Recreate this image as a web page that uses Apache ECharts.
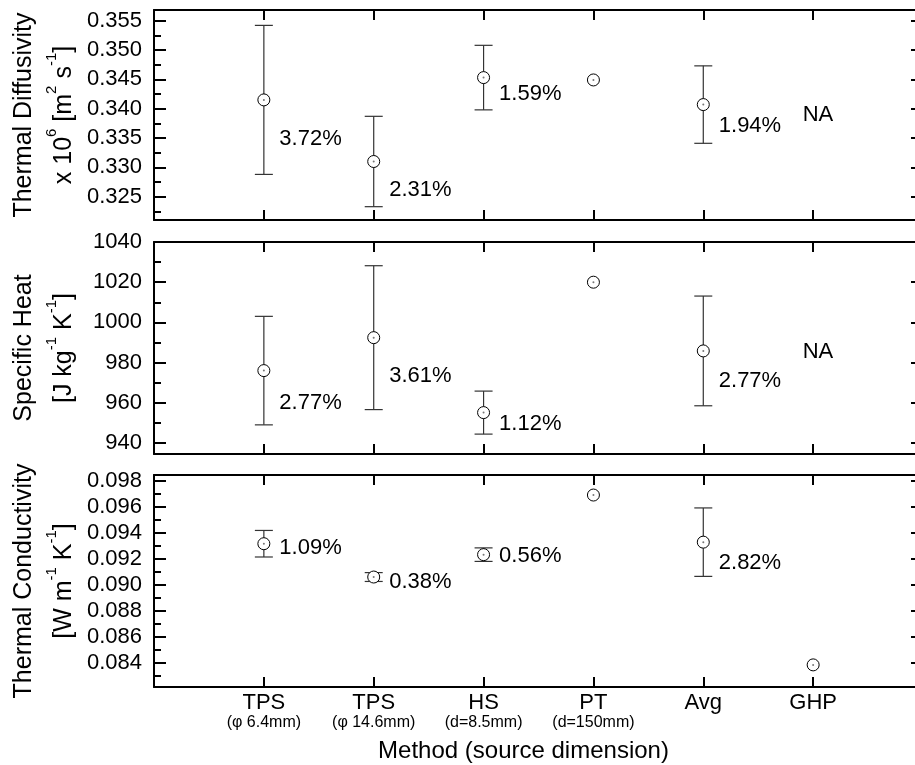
<!DOCTYPE html>
<html>
<head>
<meta charset="utf-8">
<script src="https://cdn.jsdelivr.net/npm/echarts@6/dist/echarts.min.js"></script>
<style>
html, body { margin: 0; padding: 0; background: #fff; }
#chart { width: 915px; height: 765px; }
</style>
</head>
<body>
<div id="chart"></div>
<script>
// methods along the x axis (positions 1..6)
var methods = ['TPS', 'TPS', 'HS', 'PT', 'Avg', 'GHP'];
var methodSub = ['(\u03c6 6.4mm)', '(\u03c6 14.6mm)', '(d=8.5mm)', '(d=150mm)', '', ''];

// thermal diffusivity x 10^6
var diffValues = [0.3415, 0.3310, 0.3453, 0.3449, 0.3407, null];
var diffErrors = [0.0127, 0.0077, 0.0055, null, 0.0066, null];
var diffPct = ['3.72%', '2.31%', '1.59%', '', '1.94%', ''];
var diffTicks = [0.325, 0.330, 0.335, 0.340, 0.345, 0.350, 0.355];
var diffMinor = [0.3225, 0.3275, 0.3325, 0.3375, 0.3425, 0.3475, 0.3525];

// specific heat
var heatValues = [976, 992.4, 955.1, 1020, 985.8, null];
var heatErrors = [27.0, 35.8, 10.7, null, 27.3, null];
var heatPct = ['2.77%', '3.61%', '1.12%', '', '2.77%', ''];
var heatTicks = [940, 960, 980, 1000, 1020, 1040];
var heatMinor = [950, 970, 990, 1010, 1030];

// thermal conductivity
var condValues = [0.09316, 0.0906, 0.09232, 0.0969, 0.09328, 0.08385];
var condErrors = [0.00102, 0.00034, 0.00052, null, 0.00263, null];
var condPct = ['1.09%', '0.38%', '0.56%', '', '2.82%', ''];
var condTicks = [0.084, 0.086, 0.088, 0.090, 0.092, 0.094, 0.096, 0.098];
var condMinor = [0.083, 0.085, 0.087, 0.089, 0.091, 0.093, 0.095, 0.097];

var font = '"Liberation Sans", Arial, sans-serif';
var chart = echarts.init(document.getElementById('chart'));

// vertical shift (px) of the percentage labels
var pctShift = [
    [39, 28, 16, 0, 21],
    [32, 38, 11, 0, 30],
    [4, 5, 1, 0, 21]
];

var panels = [
    {values: diffValues, errors: diffErrors, pct: diffPct, ticks: diffTicks, minor: diffMinor,
     min: 0.32103, max: 0.35682, top: 10, height: 210, digits: 3, na: 0.3389,
     title: 'Thermal Diffusivity\nx 10{sup|6} [m{sup|2} s{sup|-1}]'},
    {values: heatValues, errors: heatErrors, pct: heatPct, ticks: heatTicks, minor: heatMinor,
     min: 934.5, max: 1040, top: 242, height: 212, digits: 0, na: 985.4,
     title: 'Specific Heat\n[J kg{sup|-1} K{sup|-1}]'},
    {values: condValues, errors: condErrors, pct: condPct, ticks: condTicks, minor: condMinor,
     min: 0.08215, max: 0.09844, top: 475, height: 212, digits: 3, na: null,
     title: 'Thermal Conductivity\n[W m{sup|-1} K{sup|-1}]'}
];

var lineStyle = {color: '#000', width: 2};

function errRender(params, api) {
    var x = api.value(0);
    var lo = api.coord([x, api.value(1)]);
    var hi = api.coord([x, api.value(2)]);
    var w = 9;
    var st = {stroke: '#333', lineWidth: 1.2};
    return {
        type: 'group',
        children: [
            {type: 'line', shape: {x1: lo[0], y1: lo[1], x2: hi[0], y2: hi[1]}, style: st},
            {type: 'line', shape: {x1: lo[0] - w, y1: lo[1], x2: lo[0] + w, y2: lo[1]}, style: st},
            {type: 'line', shape: {x1: hi[0] - w, y1: hi[1], x2: hi[0] + w, y2: hi[1]}, style: st}
        ]
    };
}

var grids = [], xAxes = [], yAxes = [], series = [];

panels.forEach(function(p, i) {
    var last = i == panels.length - 1;
    grids.push({left: 154, width: 769, top: p.top, height: p.height,
                containLabel: false, outerBoundsMode: 'none'});

    xAxes.push({
        type: 'value', gridIndex: i, min: 0, max: 7, interval: 1, position: 'bottom',
        axisLine: {onZero: false, lineStyle: lineStyle},
        axisTick: {inside: true, length: 10, lineStyle: lineStyle},
        splitLine: {show: false},
        axisLabel: last ? {
            margin: 5,
            formatter: function(v) {
                if (v < 1 || v > 6) return '';
                return '{main|' + methods[v - 1] + '}\n{sub|' + (methodSub[v - 1] || ' ') + '}';
            },
            rich: {
                main: {fontSize: 22, lineHeight: 22, fontFamily: font, color: '#000'},
                sub: {fontSize: 16, lineHeight: 18, fontFamily: font, color: '#000'}
            }
        } : {show: false},
        name: last ? 'Method (source dimension)' : '',
        nameLocation: 'middle',
        nameGap: 52,
        nameTextStyle: {fontSize: 24, fontFamily: font, color: '#000', padding: [0, 30, 0, 0]}
    });
    xAxes.push({
        type: 'value', gridIndex: i, min: 0, max: 7, interval: 1, position: 'top',
        axisLine: {onZero: false, lineStyle: lineStyle},
        axisTick: {inside: true, length: 10, lineStyle: lineStyle},
        axisLabel: {show: false},
        splitLine: {show: false}
    });

    yAxes.push({
        type: 'value', gridIndex: i, min: p.min, max: p.max, position: 'left',
        axisLine: {show: true, onZero: false, lineStyle: lineStyle},
        axisTick: {inside: true, length: 12, customValues: p.ticks, lineStyle: lineStyle},
        axisLabel: {
            customValues: p.ticks, margin: 12, fontSize: 22, fontFamily: font, color: '#000',
            formatter: function(v) { return v.toFixed(p.digits); }
        },
        splitLine: {show: false},
        name: p.title,
        nameLocation: 'middle',
        nameRotate: 90,
        nameGap: 70,
        nameMoveOverlap: false,
        nameTextStyle: {
            fontSize: 25, lineHeight: 40, fontFamily: font, color: '#000', align: 'center',
            rich: {
                sup: {fontSize: 15, lineHeight: 20, verticalAlign: 'top', fontFamily: font, color: '#000'}
            }
        }
    });
    yAxes.push({
        type: 'value', gridIndex: i, min: p.min, max: p.max, position: 'left',
        axisLine: {show: false, onZero: false},
        axisTick: {inside: true, length: 7, customValues: p.minor, lineStyle: lineStyle},
        axisLabel: {show: false},
        splitLine: {show: false}
    });
    yAxes.push({
        type: 'value', gridIndex: i, min: p.min, max: p.max, position: 'right',
        axisLine: {show: false, onZero: false},
        axisTick: {inside: true, length: 12, customValues: p.ticks, lineStyle: lineStyle},
        axisLabel: {show: false},
        splitLine: {show: false}
    });

    var errData = [], pts = [];
    p.values.forEach(function(v, k) {
        if (v == null) return;
        if (p.errors[k] != null) errData.push([k + 1, v - p.errors[k], v + p.errors[k]]);
        pts.push({
            value: [k + 1, v],
            label: {
                show: p.pct[k] !== '',
                formatter: p.pct[k],
                offset: [0, pctShift[i][k] || 0]
            }
        });
    });

    series.push({
        type: 'custom', xAxisIndex: 2 * i, yAxisIndex: 3 * i,
        renderItem: errRender, data: errData, z: 2, silent: true
    });
    series.push({
        type: 'scatter', xAxisIndex: 2 * i, yAxisIndex: 3 * i,
        symbol: 'circle', symbolSize: 12, z: 3,
        itemStyle: {color: '#fff', borderColor: '#000', borderWidth: 1, opacity: 1},
        label: {position: 'right', distance: 9, fontSize: 22, fontFamily: font, color: '#000'},
        data: pts
    });
    series.push({
        type: 'scatter', xAxisIndex: 2 * i, yAxisIndex: 3 * i,
        symbol: 'circle', symbolSize: 2, z: 4, silent: true,
        itemStyle: {color: '#555'},
        data: pts.map(function(d) { return d.value; })
    });
    if (p.na != null) {
        series.push({
            type: 'scatter', xAxisIndex: 2 * i, yAxisIndex: 3 * i,
            symbol: 'circle', symbolSize: 1, silent: true, z: 5,
            itemStyle: {color: '#fff', opacity: 1},
            label: {show: true, position: 'right', distance: 0, offset: [-11, 0], formatter: 'NA',
                    fontSize: 22, fontFamily: font, color: '#000', opacity: 1},
            data: [[6, p.na]]
        });
    }
});

chart.setOption({
    animation: false,
    backgroundColor: '#fff',
    grid: grids,
    xAxis: xAxes,
    yAxis: yAxes,
    series: series
});
</script>
</body>
</html>
